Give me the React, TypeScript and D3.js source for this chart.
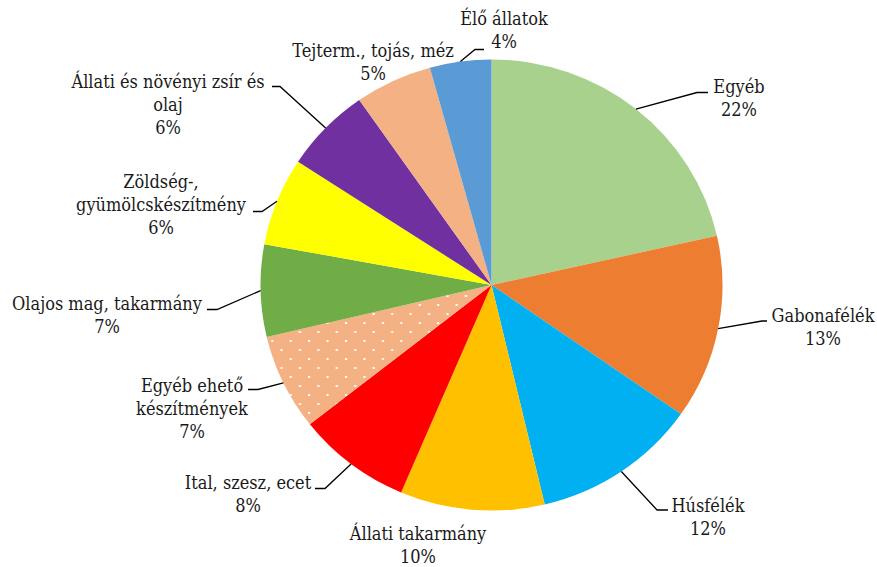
import * as d3 from "d3";

const categories = [
  "Egyéb",
  "Gabonafélék",
  "Húsfélék",
  "Állati takarmány",
  "Ital, szesz, ecet",
  "Egyéb ehető\nkészítmények",
  "Olajos mag, takarmány",
  "Zöldség-,\ngyümölcskészítmény",
  "Állati és növényi zsír és\nolaj",
  "Tejterm., tojás, méz",
  "Élő állatok",
];
const shares = [21.5, 13.2, 11.6, 10.1, 8.0, 6.9, 6.6, 6.3, 6.1, 5.4, 4.3];
const colors = [
  "#A9D18E", "#ED7D31", "#00B0F0", "#FFC000", "#FF0000", "url(#dots)",
  "#70AD47", "#FFFF00", "#7030A0", "#F4B183", "#5B9BD5",
];

// label placement: text centre, first baseline, leader elbow + end (null = no leader)
const labelLayout: { x: number; y: number; leader: [number, number, number, number] | null }[] = [
  { x: 739, y: 93, leader: [697, 92.5, 708, 92.5] },
  { x: 823, y: 322, leader: [762, 321, 767, 321] },
  { x: 708, y: 512, leader: [657, 510, 668, 510] },
  { x: 418, y: 540, leader: null },
  { x: 248, y: 489, leader: [325, 488.5, 315, 488.5] },
  { x: 192, y: 392, leader: [258, 389.5, 248, 389.5] },
  { x: 107, y: 310, leader: [217, 309.5, 207, 309.5] },
  { x: 161, y: 188.5, leader: [262, 211.5, 253, 211.5] },
  { x: 168, y: 88.5, leader: [280, 86.5, 272, 86.5] },
  { x: 373, y: 57, leader: null },
  { x: 504, y: 25, leader: [475, 49.5, 484, 49.5] },
];

const cx = 491.5;
const cy = 285;
const ry = 225.5;
const rx = 231;
const lineH = 23;
const serif = '"DejaVu Serif", serif';
const squeeze = 0.9;

export default function App() {
  const idx = d3.range(shares.length);
  const pie = d3.pie<number>().sort(null).value((i) => shares[i]);
  const arcs = pie(idx);
  const arc = d3.arc<d3.PieArcDatum<number>>().innerRadius(0).outerRadius(ry);

  return (
    <svg width={877} height={567} style={{ position: "absolute", left: 0, top: 0 }}>
      <defs>
        <pattern id="dots" width={18} height={18} patternUnits="userSpaceOnUse">
          <rect width={18} height={18} fill="#F4B183" />
          <rect x={1} y={1} width={2} height={2} fill="#fff" />
          <rect x={10} y={10} width={2} height={2} fill="#fff" />
        </pattern>
      </defs>
      <rect width={877} height={567} fill="#fff" />
      <g transform={`translate(${cx},${cy}) scale(${rx / ry},1)`}>
        {arcs.map((a) => (
          <path key={a.data} d={arc(a) ?? ""} fill={colors[a.data]} />
        ))}
      </g>
      {arcs.map((a) => {
        const l = labelLayout[a.data];
        if (!l.leader) return null;
        const mid = (a.startAngle + a.endAngle) / 2;
        const sx = cx + rx * Math.sin(mid);
        const sy = cy - ry * Math.cos(mid);
        const [ex, ey, tx, ty] = l.leader;
        return (
          <polyline
            key={"l" + a.data}
            points={`${sx},${sy} ${ex},${ey} ${tx},${ty}`}
            fill="none"
            stroke="#000"
            strokeWidth={1.3}
          />
        );
      })}
      {arcs.map((a) => {
        const l = labelLayout[a.data];
        const lines = [...categories[a.data].split("\n"), `${Math.round(shares[a.data])}%`];
        return (
          <g key={"t" + a.data} transform={`translate(${l.x},0) scale(${squeeze},1)`}>
            <text
              x={0}
              y={l.y}
              textAnchor="middle"
              style={{ fontFamily: serif, fontSize: "18px" }}
              fill="#1a1a1a"
            >
              {lines.map((s, k) => (
                <tspan key={k} x={0} y={l.y + k * lineH}>
                  {s}
                </tspan>
              ))}
            </text>
          </g>
        );
      })}
    </svg>
  );
}
